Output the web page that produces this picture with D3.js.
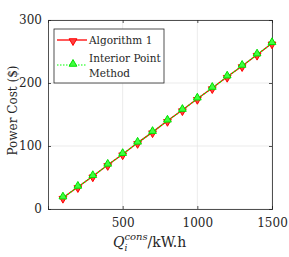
<!DOCTYPE html>
<html>
<head>
<meta charset="utf-8">
<script src="https://cdn.jsdelivr.net/npm/d3@7"></script>
<style>
body { margin: 0; background: #fff; }
</style>
</head>
<body>
<div id="chart"></div>
<script>
const consumption = [100, 200, 300, 400, 500, 600, 700, 800, 900, 1000, 1100, 1200, 1300, 1400, 1500];
const algorithm1 = [18, 35, 52, 70, 87, 105, 122, 140, 157, 175, 192, 210, 227, 245, 263];
const interiorPoint = [18, 35, 52, 70, 87, 105, 122, 140, 157, 175, 192, 210, 227, 245, 263];
const xTicks = [500, 1000, 1500];
const yTicks = [0, 100, 200, 300];

const w = 289, h = 257;
const margin = {top: 20, right: 17, bottom: 48, left: 48};
const width = w - margin.left - margin.right,
      height = h - margin.top - margin.bottom;
const serif = "DejaVu Serif";

const svg = d3.select("#chart").append("svg")
    .attr("width", w).attr("height", h);
const g = svg.append("g")
    .attr("transform", "translate(" + margin.left + "," + margin.top + ")");

const x = d3.scaleLinear().domain([0, 1500]).range([0, width]);
const y = d3.scaleLinear().domain([0, 300]).range([height, 0]);

// grid
g.selectAll(".gx").data(xTicks).enter().append("line")
    .attr("x1", d => x(d)).attr("x2", d => x(d))
    .attr("y1", 0).attr("y2", height)
    .attr("stroke", "#e6e6e6").attr("stroke-width", 0.8);
g.selectAll(".gy").data(yTicks).enter().append("line")
    .attr("x1", 0).attr("x2", width)
    .attr("y1", d => y(d)).attr("y2", d => y(d))
    .attr("stroke", "#e6e6e6").attr("stroke-width", 0.8);

// axes (ticks inside)
g.append("g").attr("transform", "translate(0," + height + ")")
    .call(d3.axisBottom(x).tickValues(xTicks).tickSize(-3).tickPadding(9).tickFormat(d3.format("d")));
g.append("g")
    .call(d3.axisLeft(y).tickValues(yTicks).tickSize(-3).tickPadding(6).tickFormat(d3.format("d")));
g.append("g").call(d3.axisTop(x).tickValues(xTicks).tickSize(-3).tickFormat(""));
g.append("g").attr("transform", "translate(" + width + ",0)")
    .call(d3.axisRight(y).tickValues(yTicks).tickSize(-3).tickFormat(""));
g.selectAll(".domain").attr("stroke", "#262626").attr("stroke-width", 0.8);
g.selectAll(".tick line").attr("stroke", "#262626").attr("stroke-width", 0.8);
g.selectAll(".tick text").attr("font-size", "12px")
    .attr("font-family", serif).attr("fill", "#262626");

const pts1 = consumption.map((c, i) => [c, algorithm1[i]]);
const pts2 = consumption.map((c, i) => [c, interiorPoint[i]]);
const line = d3.line().x(d => x(d[0])).y(d => y(d[1]));

const tri = d3.symbol().type(d3.symbolTriangle).size(26);

g.append("path").datum(pts1).attr("d", line)
    .attr("fill", "none").attr("stroke", "#ff0000").attr("stroke-width", 1.3);
g.selectAll(".m1").data(pts1).enter().append("path")
    .attr("d", tri)
    .attr("transform", d => "translate(" + x(d[0]) + "," + (y(d[1]) + 1) + ") rotate(180)")
    .attr("fill", "#ff4040").attr("stroke", "#ff0000").attr("stroke-width", 1);

g.append("path").datum(pts2).attr("d", line)
    .attr("fill", "none").attr("stroke", "#00ff00").attr("stroke-width", 1.2)
    .attr("stroke-dasharray", "1.5,1.5");
g.selectAll(".m2").data(pts2).enter().append("path")
    .attr("d", tri)
    .attr("transform", d => "translate(" + x(d[0]) + "," + (y(d[1]) - 1) + ")")
    .attr("fill", "#40ff40").attr("stroke", "#00e000").attr("stroke-width", 1);

// legend
const lg = svg.append("g").attr("transform", "translate(54,29)")
    .attr("font-family", serif).attr("fill", "#262626");
lg.append("rect").attr("width", 110).attr("height", 54)
    .attr("fill", "#fff").attr("stroke", "#262626").attr("stroke-width", 0.8);
lg.append("line").attr("x1", 3).attr("x2", 33).attr("y1", 11).attr("y2", 11)
    .attr("stroke", "#ff0000").attr("stroke-width", 1.3);
lg.append("path").attr("d", tri).attr("transform", "translate(19,12) rotate(180)")
    .attr("fill", "#ff4040").attr("stroke", "#ff0000");
lg.append("text").attr("x", 35).attr("y", 15).attr("font-size", "10.5px").text("Algorithm 1");
lg.append("line").attr("x1", 3).attr("x2", 33).attr("y1", 36).attr("y2", 36)
    .attr("stroke", "#00ff00").attr("stroke-width", 1.2).attr("stroke-dasharray", "1.5,1.5");
lg.append("path").attr("d", tri).attr("transform", "translate(19,35)")
    .attr("fill", "#40ff40").attr("stroke", "#00e000");
lg.append("text").attr("x", 35).attr("y", 33).attr("font-size", "10.5px").text("Interior Point");
lg.append("text").attr("x", 35).attr("y", 48).attr("font-size", "10.5px").text("Method");

// axis labels
svg.append("text")
    .attr("transform", "translate(17," + (margin.top + height / 2 - 4) + ") rotate(-90)")
    .attr("text-anchor", "middle").attr("font-size", "12px")
    .attr("font-family", serif).attr("fill", "#262626")
    .text("Power Cost ($)");

const xl = svg.append("text").attr("x", 113).attr("y", 247).attr("font-size", "14px")
    .attr("font-family", serif).attr("fill", "#262626");
xl.append("tspan").attr("font-style", "italic").text("Q");
xl.append("tspan").attr("font-style", "italic").attr("font-size", "9px").attr("dy", 4).text("i");
xl.append("tspan").attr("font-style", "italic").attr("font-size", "10px").attr("dx", -3).attr("dy", -11).text("cons");
xl.append("tspan").attr("dy", 7).text("/kW.h");
</script>
</body>
</html>
